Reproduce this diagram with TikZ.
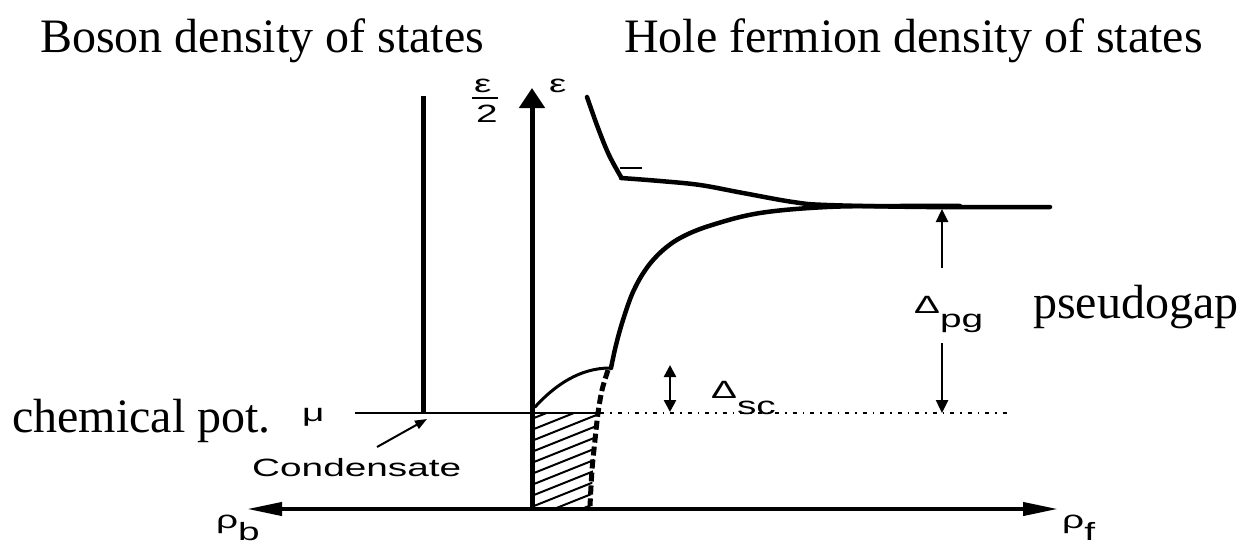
\documentclass[tikz,border=0pt]{standalone}
\usepackage{fontspec}
\setmainfont{Liberation Serif}
\setsansfont{Liberation Sans}
\usetikzlibrary{arrows.meta}
\newcommand{\widesf}[1]{\scalebox{1.55}[1]{#1}}
\tikzset{
  title label/.style={font=\fontsize{48}{52}\selectfont,inner sep=0pt,anchor=base west},
  sf label/.style={font=\sffamily\fontsize{25}{28}\selectfont,inner sep=0pt,anchor=base west},
  axis line/.style={line width=5pt},
  dos curve/.style={line width=4.5pt,line join=round,line cap=round},
  dos dashed/.style={line width=5pt,dash pattern=on 9pt off 4pt},
  gap arrow/.style={line width=2.5pt,-{Triangle[length=13pt,width=12pt]}},
  level line/.style={line width=1.3pt},
  level dots/.style={line width=1.2pt,dash pattern=on 4pt off 6pt on 1.5pt off 6pt},
  hatch line/.style={line width=2pt},
}

\begin{document}
\begin{tikzpicture}[x=1pt,y=-1pt]
  \useasboundingbox (0,0) rectangle (1239,546);
  \node[title label] (boson title) at (40,52) {Boson density of states};
  \node[title label] (hole title) at (624,52) {Hole fermion density of states};
  \node[title label] (chem) at (12,432) {chemical pot.};
  \node[title label] (pseudo) at (1033,318) {pseudogap};

  \coordinate (origin) at (532,509);
  \coordinate (e top) at (532,88);
  \coordinate (rhob end) at (247,509);
  \coordinate (rhof end) at (1058,509);
  \coordinate (boson top) at (423,96);
  \coordinate (boson base) at (423,413);
  \coordinate (mu start) at (355,413);
  \coordinate (mu edge) at (600,413);
  \coordinate (mu end) at (1007,413);

  \node[sf label] (eps half) at (474,92) {\widesf{ε}};
  \node[sf label] (two) at (476,122) {\widesf{2}};
  \draw[line width=2pt] (472,98) -- (498,98);
  \node[sf label] (eps) at (549,92) {\widesf{ε}};
  \node[sf label] (mu) at (302,421) {\widesf{μ}};
  \node[sf label] (rhob) at (216,528) {\widesf{ρ\raisebox{-0.48em}{b}}};
  \node[sf label] (rhof) at (1062,528) {\widesf{ρ\raisebox{-0.48em}{f}}};
  \node[sf label] (cond) at (252,476) {\widesf{Condensate}};
  \node[sf label] (dsc) at (711,398) {\widesf{Δ\raisebox{-0.65em}{sc}}};
  \node[sf label] (dpg) at (914,313) {\widesf{Δ\raisebox{-0.58em}{pg}}};

  \draw[axis line,-{Triangle[length=20pt,width=25pt]}] (origin) -- (e top);
  \draw[line width=4pt,{Triangle[length=35pt,width=13pt]}-{Triangle[length=35pt,width=13pt]}]
    (rhob end) -- (rhof end);
  \draw[axis line] (boson base) -- (boson top);
  \draw[level line] (mu start) -- (mu edge);
  \draw[level dots] (mu edge) -- (mu end);
  \draw[line width=2pt,-{Triangle[length=12pt,width=9pt]}] (377,447) -- (427,419);

  \begin{scope}
    \clip (534,413) -- (599,413) -- (596,440) -- (593,470) -- (591,507) -- (534,507) -- cycle;
    \foreach \k in {0,...,10}
      \draw[hatch line] (534,418+\k*11) -- ++(70,-28);
  \end{scope}

  \draw[dos curve] plot[smooth,tension=0.6] coordinates
    {(587,97) (598,128) (609,155) (621,177)};
  \draw[dos curve] plot[smooth,tension=0.6] coordinates
    {(621,178) (660,181) (700,185) (743,193) (793,202) (827,205) (927,207) (1050,207)};
  \draw[line width=2.5pt] (620,168) -- (642,168);
  \draw[dos curve] plot[smooth,tension=0.6] coordinates
    {(611,368) (616,345) (623,320) (633,292) (646,269) (662,251) (682,237) (712,225) (760,213) (827,207) (900,206) (960,206)};
  \draw[dos dashed] plot[smooth] coordinates
    {(608,370) (602,390) (598,413) (595,440) (592,470) (590,506)};
  \draw[line width=3pt,line cap=round] (535,407) .. controls (555,385) and (580,368) .. (610,368);

  \draw[line width=2.5pt,{Triangle[length=12pt,width=12pt]}-{Triangle[length=12pt,width=12pt]}]
    (670,365) -- (670,412);
  \coordinate (pg up) at (942,268);
  \coordinate (pg top) at (942,209);
  \coordinate (pg down) at (942,343);
  \coordinate (pg bot) at (942,413);
  \draw[gap arrow] (pg up) -- (pg top);
  \draw[gap arrow] (pg down) -- (pg bot);
\end{tikzpicture}
\end{document}
